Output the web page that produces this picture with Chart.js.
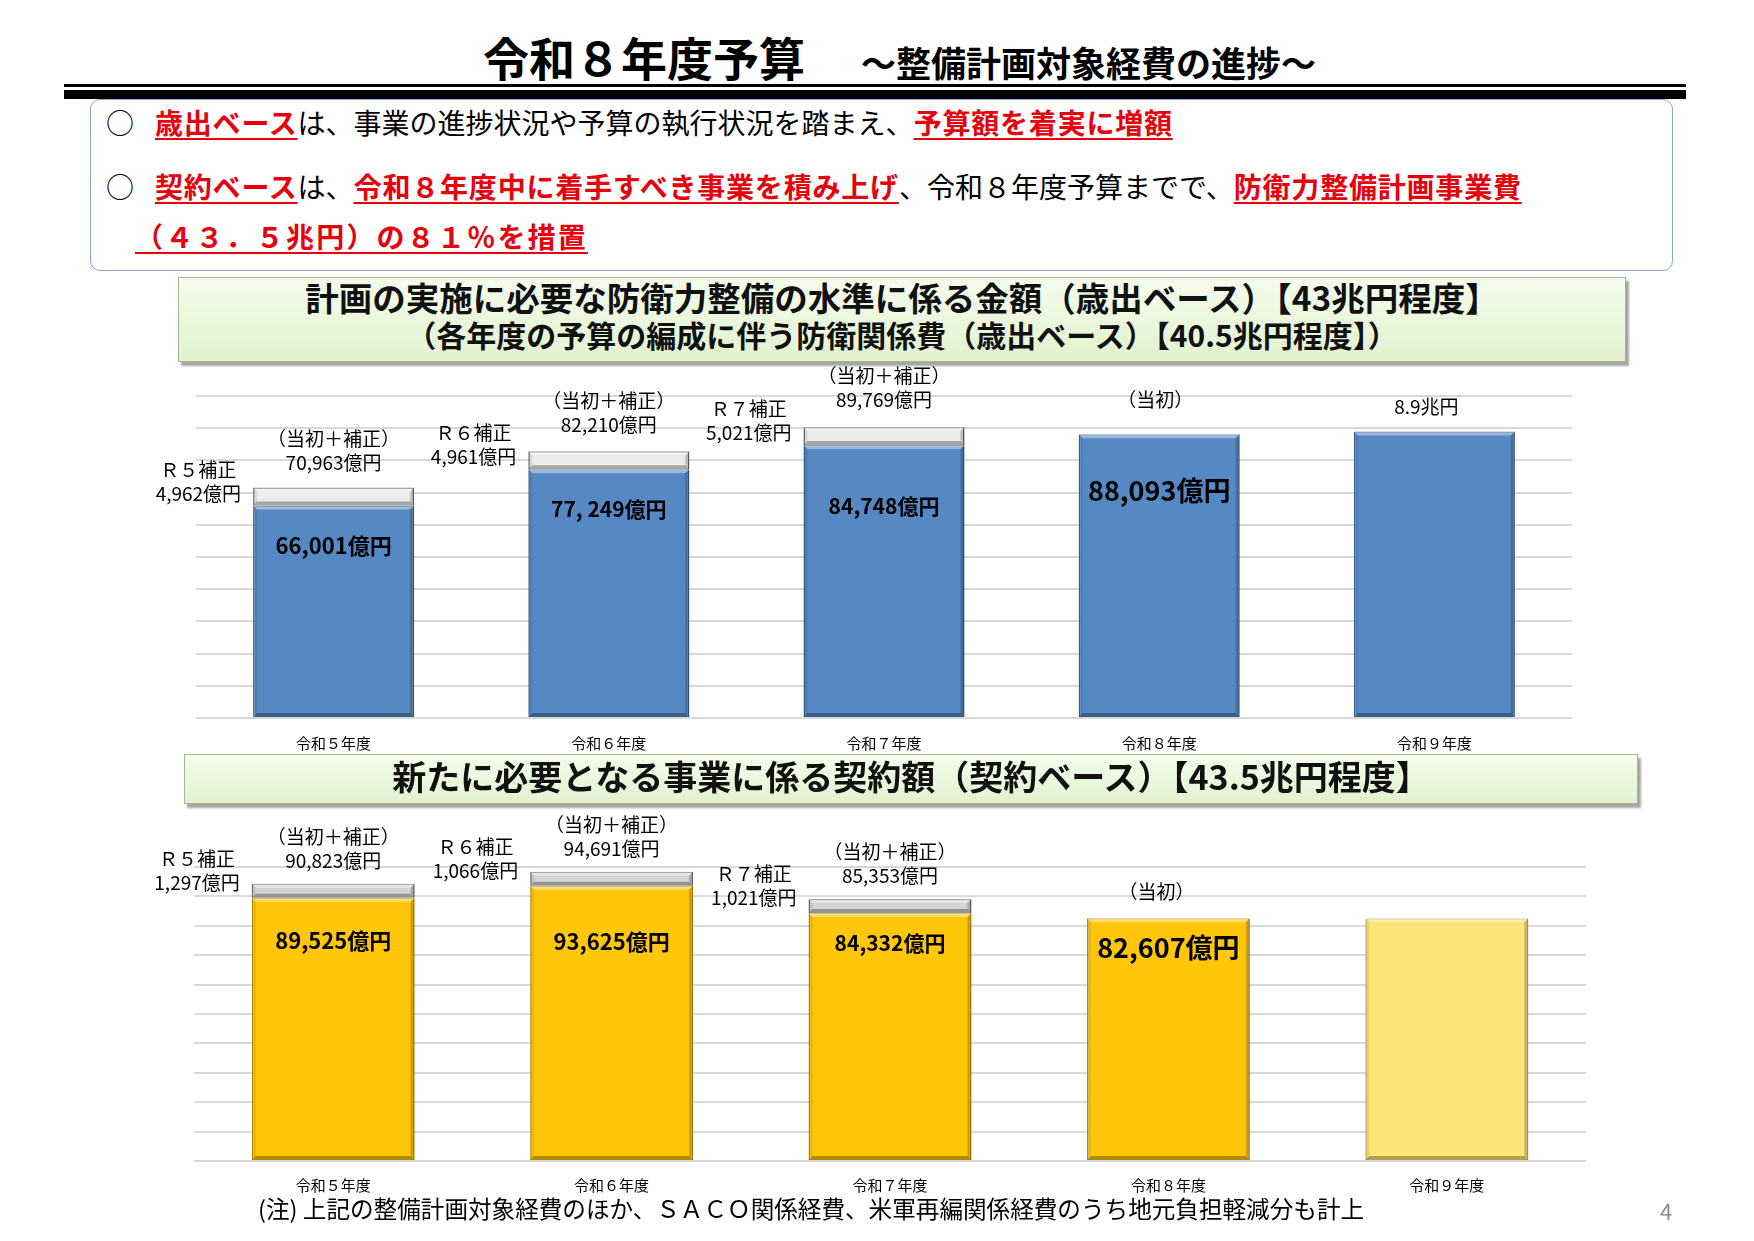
<!DOCTYPE html>
<html lang="ja">
<head>
<meta charset="utf-8">
<title>令和８年度予算 ～整備計画対象経費の進捗～</title>
<script src="https://cdn.jsdelivr.net/npm/chart.js@4.4.1/dist/chart.umd.min.js"></script>
<style>
  body { margin: 0; background: #fff; font-family: "Noto Sans CJK JP", "Noto Sans", sans-serif; color: #000; }
  #page { position: relative; width: 1754px; height: 1241px; overflow: hidden; }
  .abs { position: absolute; white-space: nowrap; line-height: 1; }
  .rule { position: absolute; left: 64px; width: 1622px; background: #000; }
  #notebox { position: absolute; left: 90px; top: 99px; width: 1581px; height: 170px;
             border: 1.5px solid #86a6d0; border-radius: 10px; }
  .line { font-size: 28px; }
  .red { color: #e8000b; font-weight: bold; text-decoration: underline; letter-spacing: 0.8px;
         text-decoration-thickness: 2px; text-underline-offset: 4px; }
  .band { position: absolute; border: 1px solid #a3b88f; box-sizing: border-box;
          background: linear-gradient(to bottom, #f5fcec, #e1f2cf);
          box-shadow: 3px 4px 2px rgba(0,0,0,0.35); }
  .band div { position: absolute; left: 0; right: 0; text-align: center; font-weight: bold;
              line-height: 1; white-space: nowrap; color: #111; }
  canvas { position: absolute; left: 0; }
</style>
</head>
<body>
<div id="page">
  <div class="abs" style="left:483px; top:33px; font-size:46px; font-weight:bold;">令和８年度予算</div>
  <div class="abs" style="left:861px; top:44px; font-size:35px; font-weight:bold;">～整備計画対象経費の進捗～</div>
  <div class="rule" style="top:84px; height:3px;"></div>
  <div class="rule" style="top:90px; height:9px;"></div>

  <div id="notebox"></div>
  <div class="abs line" style="left:106px; top:108px;">○</div>
  <div class="abs line" style="left:155px; top:108px;"><span class="red">歳出ベース</span>は、事業の進捗状況や予算の執行状況を踏まえ、<span class="red">予算額を着実に増額</span></div>
  <div class="abs line" style="left:106px; top:172px;">○</div>
  <div class="abs line" style="left:155px; top:172px;"><span class="red">契約ベース</span>は、<span class="red">令和８年度中に着手すべき事業を積み上げ</span>、令和８年度予算までで、<span class="red">防衛力整備計画事業費</span></div>
  <div class="abs line" style="left:135px; top:222px;"><span class="red" style="letter-spacing:2.2px;">（４３．５兆円）の８１％を措置</span></div>

  <div class="band" style="left:178px; top:277px; width:1448px; height:85px;">
    <div style="top:2px; font-size:33.5px;">計画の実施に必要な防衛力整備の水準に係る金額（歳出ベース）【43兆円程度】</div>
    <div style="top:41px; font-size:30px;">（各年度の予算の編成に伴う防衛関係費（歳出ベース）【40.5兆円程度】）</div>
  </div>
  <canvas id="spendChart" width="1754" height="450" style="top:330px;"></canvas>

  <div class="band" style="left:184px; top:754px; width:1454px; height:50px;">
    <div style="top:4px; font-size:34px;">新たに必要となる事業に係る契約額（契約ベース）【43.5兆円程度】</div>
  </div>
  <canvas id="contractChart" width="1754" height="420" style="top:806px;"></canvas>

  <div class="abs" style="left:258px; top:1197px; font-size:23.6px;">(注) 上記の整備計画対象経費のほか、ＳＡＣＯ関係経費、米軍再編関係経費のうち地元負担軽減分も計上</div>
  <div class="abs" style="left:1660px; top:1199px; font-size:22px; color:#8c8c8c;">4</div>
</div>

<script>
var FONT = '"Noto Sans CJK JP", sans-serif';

// categories
var years = ['令和５年度', '令和６年度', '令和７年度', '令和８年度', '令和９年度'];
var suppNames = ['Ｒ５補正', 'Ｒ６補正', 'Ｒ７補正', '', ''];

// 歳出ベース (億円)
var spendInitial = [66001, 77249, 84748, 88093, 89000];
var spendSupplement = [4962, 4961, 5021, null, null];
var spendTotal = [70963, 82210, 89769, null, null];
var spendInsideText = ['66,001億円', '77, 249億円', '84,748億円', '88,093億円', ''];
var spendTopNote = ['（当初＋補正）', '（当初＋補正）', '（当初＋補正）', '（当初）', '8.9兆円'];

// 契約ベース (億円)
var contractInitial = [89525, 93625, 84332, 82607, 82600];
var contractSupplement = [1297, 1066, 1021, null, null];
var contractTotal = [90823, 94691, 85353, null, null];
var contractInsideText = ['89,525億円', '93,625億円', '84,332億円', '82,607億円', ''];
var contractTopNote = ['（当初＋補正）', '（当初＋補正）', '（当初＋補正）', '（当初）', ''];

function fmt(v) { return v.toLocaleString('en-US'); }

function poly(ctx, pts, color) {
    ctx.beginPath();
    ctx.moveTo(pts[0][0], pts[0][1]);
    for (var i = 1; i < pts.length; i++) ctx.lineTo(pts[i][0], pts[i][1]);
    ctx.closePath();
    ctx.fillStyle = color;
    ctx.fill();
}

// beveled edges on every bar, like the office 3D bar style
var bevel = {
    id: 'bevel',
    afterDatasetsDraw: function (chart) {
        var ctx = chart.ctx;
        ctx.save();
        chart.data.datasets.forEach(function (ds, d) {
            chart.getDatasetMeta(d).data.forEach(function (bar, i) {
                if (ds.data[i] == null) return;
                var l = bar.x - bar.width / 2, r = bar.x + bar.width / 2;
                var t = Math.min(bar.y, bar.base), b = Math.max(bar.y, bar.base);
                var e = Math.min(4, (b - t) / 3);
                poly(ctx, [[l, t], [r, t], [r - e, t + e], [l + e, t + e]], 'rgba(255,255,255,0.4)');
                poly(ctx, [[r, t], [r, b], [r - e, b - e], [r - e, t + e]], 'rgba(0,0,0,0.2)');
                poly(ctx, [[l, b], [r, b], [r - e, b - e], [l + e, b - e]], 'rgba(0,0,0,0.3)');
                poly(ctx, [[l, t], [l + e, t + e], [l + e, b - e], [l, b]], 'rgba(0,0,0,0.08)');
            });
        });
        ctx.restore();
    }
};

// texts placed around the bars: inside value, note above, supplement on the left
var barNotes = {
    id: 'barNotes',
    afterDatasetsDraw: function (chart, args, opts) {
        var ctx = chart.ctx;
        var baseBars = chart.getDatasetMeta(0).data;
        var suppBars = chart.getDatasetMeta(1).data;
        var supp = chart.data.datasets[1].data;
        ctx.save();
        ctx.fillStyle = '#000';
        ctx.textAlign = 'center';
        ctx.textBaseline = 'middle';
        baseBars.forEach(function (bar, i) {
            var hasSupp = supp[i] != null;
            var top = hasSupp ? suppBars[i].y : bar.y;

            if (opts.inside[i]) {
                ctx.font = 'bold ' + opts.insideSize[i] + 'px ' + FONT;
                ctx.fillText(opts.inside[i], bar.x, bar.y + opts.insideOffset[i]);
            }

            ctx.font = opts.noteSize + 'px ' + FONT;
            var lines = [];
            if (opts.topNote[i]) lines.push(opts.topNote[i]);
            if (opts.total[i] != null) lines.push(fmt(opts.total[i]) + '億円');
            for (var k = 0; k < lines.length; k++) {
                var y = top - opts.aboveGap - opts.aboveLift[i] - (lines.length - 1 - k) * opts.lineGap;
                ctx.fillText(lines[k], bar.x + opts.aboveShift[i], y);
            }

            if (hasSupp) {
                var s = suppBars[i];
                var mid = (s.y + s.base) / 2 - opts.leftLift;
                var txt = fmt(supp[i]) + '億円';
                var cx = bar.x - bar.width / 2 - 12 - ctx.measureText(txt).width / 2;
                ctx.fillText(opts.suppNames[i], cx, mid - opts.lineGap);
                ctx.fillText(txt, cx, mid);
            }
        });
        ctx.restore();
    }
};

function makeChart(id, cfg) {
    var ctx = document.getElementById(id).getContext('2d');
    return new Chart(ctx, {
        type: 'bar',
        data: {
            labels: years,
            datasets: [
                {
                    data: cfg.initial,
                    backgroundColor: cfg.colors,
                    borderColor: cfg.borders,
                    borderWidth: 1.5,
                    barPercentage: 0.585,
                    categoryPercentage: 1
                },
                {
                    data: cfg.supplement,
                    backgroundColor: cfg.capColor,
                    borderColor: '#6f6f6f',
                    borderWidth: 1.5,
                    barPercentage: 0.585,
                    categoryPercentage: 1,
                    minBarLength: cfg.capMin
                }
            ]
        },
        options: {
            responsive: false,
            animation: false,
            layout: { padding: cfg.padding },
            plugins: {
                legend: { display: false },
                tooltip: { enabled: false },
                barNotes: cfg.notes
            },
            scales: {
                x: {
                    stacked: true,
                    grid: { display: false, drawTicks: false },
                    border: { display: false },
                    ticks: { padding: cfg.tickPad, color: '#000', font: { family: FONT, size: 15 } }
                },
                y: {
                    stacked: true,
                    min: 0,
                    max: 100000,
                    ticks: { display: false, stepSize: 10000 },
                    grid: { color: '#d9d9d9', lineWidth: 2, drawTicks: false },
                    border: { display: false }
                }
            }
        },
        plugins: [bevel, barNotes]
    });
}

makeChart('spendChart', {
    initial: spendInitial,
    supplement: spendSupplement,
    colors: '#5689c3',
    borders: '#3b6697',
    capColor: '#ececec',
    capMin: 18,
    tickPad: 16,
    padding: { left: 196, right: 182, top: 66, bottom: 12 },
    notes: {
        inside: spendInsideText,
        insideSize: [22, 21, 21, 27, 0],
        insideOffset: [40, 40, 61, 56, 0],
        topNote: spendTopNote,
        total: spendTotal,
        suppNames: suppNames,
        noteSize: 19,
        lineGap: 24,
        aboveGap: 25,
        aboveLift: [0, 1, 2, 10, 0],
        aboveShift: [0, 0, 0, -4, -8],
        leftLift: 3
    }
});

makeChart('contractChart', {
    initial: contractInitial,
    supplement: contractSupplement,
    colors: ['#ffc60a', '#ffc60a', '#ffc60a', '#ffc60a', '#ffe476'],
    borders: ['#c29500', '#c29500', '#c29500', '#c29500', '#cfb45a'],
    capColor: '#d4d4d4',
    capMin: 14,
    tickPad: 15,
    padding: { left: 194, right: 168, top: 61, bottom: 17 },
    notes: {
        inside: contractInsideText,
        insideSize: [22, 22, 21, 27, 0],
        insideOffset: [43, 56, 30, 30, 0],
        topNote: contractTopNote,
        total: contractTotal,
        suppNames: suppNames,
        noteSize: 19,
        lineGap: 24,
        aboveGap: 23,
        aboveLift: [0, 0, 0, 3, 0],
        aboveShift: [0, 0, 0, -12, 0],
        leftLift: 8
    }
});
</script>
</body>
</html>
